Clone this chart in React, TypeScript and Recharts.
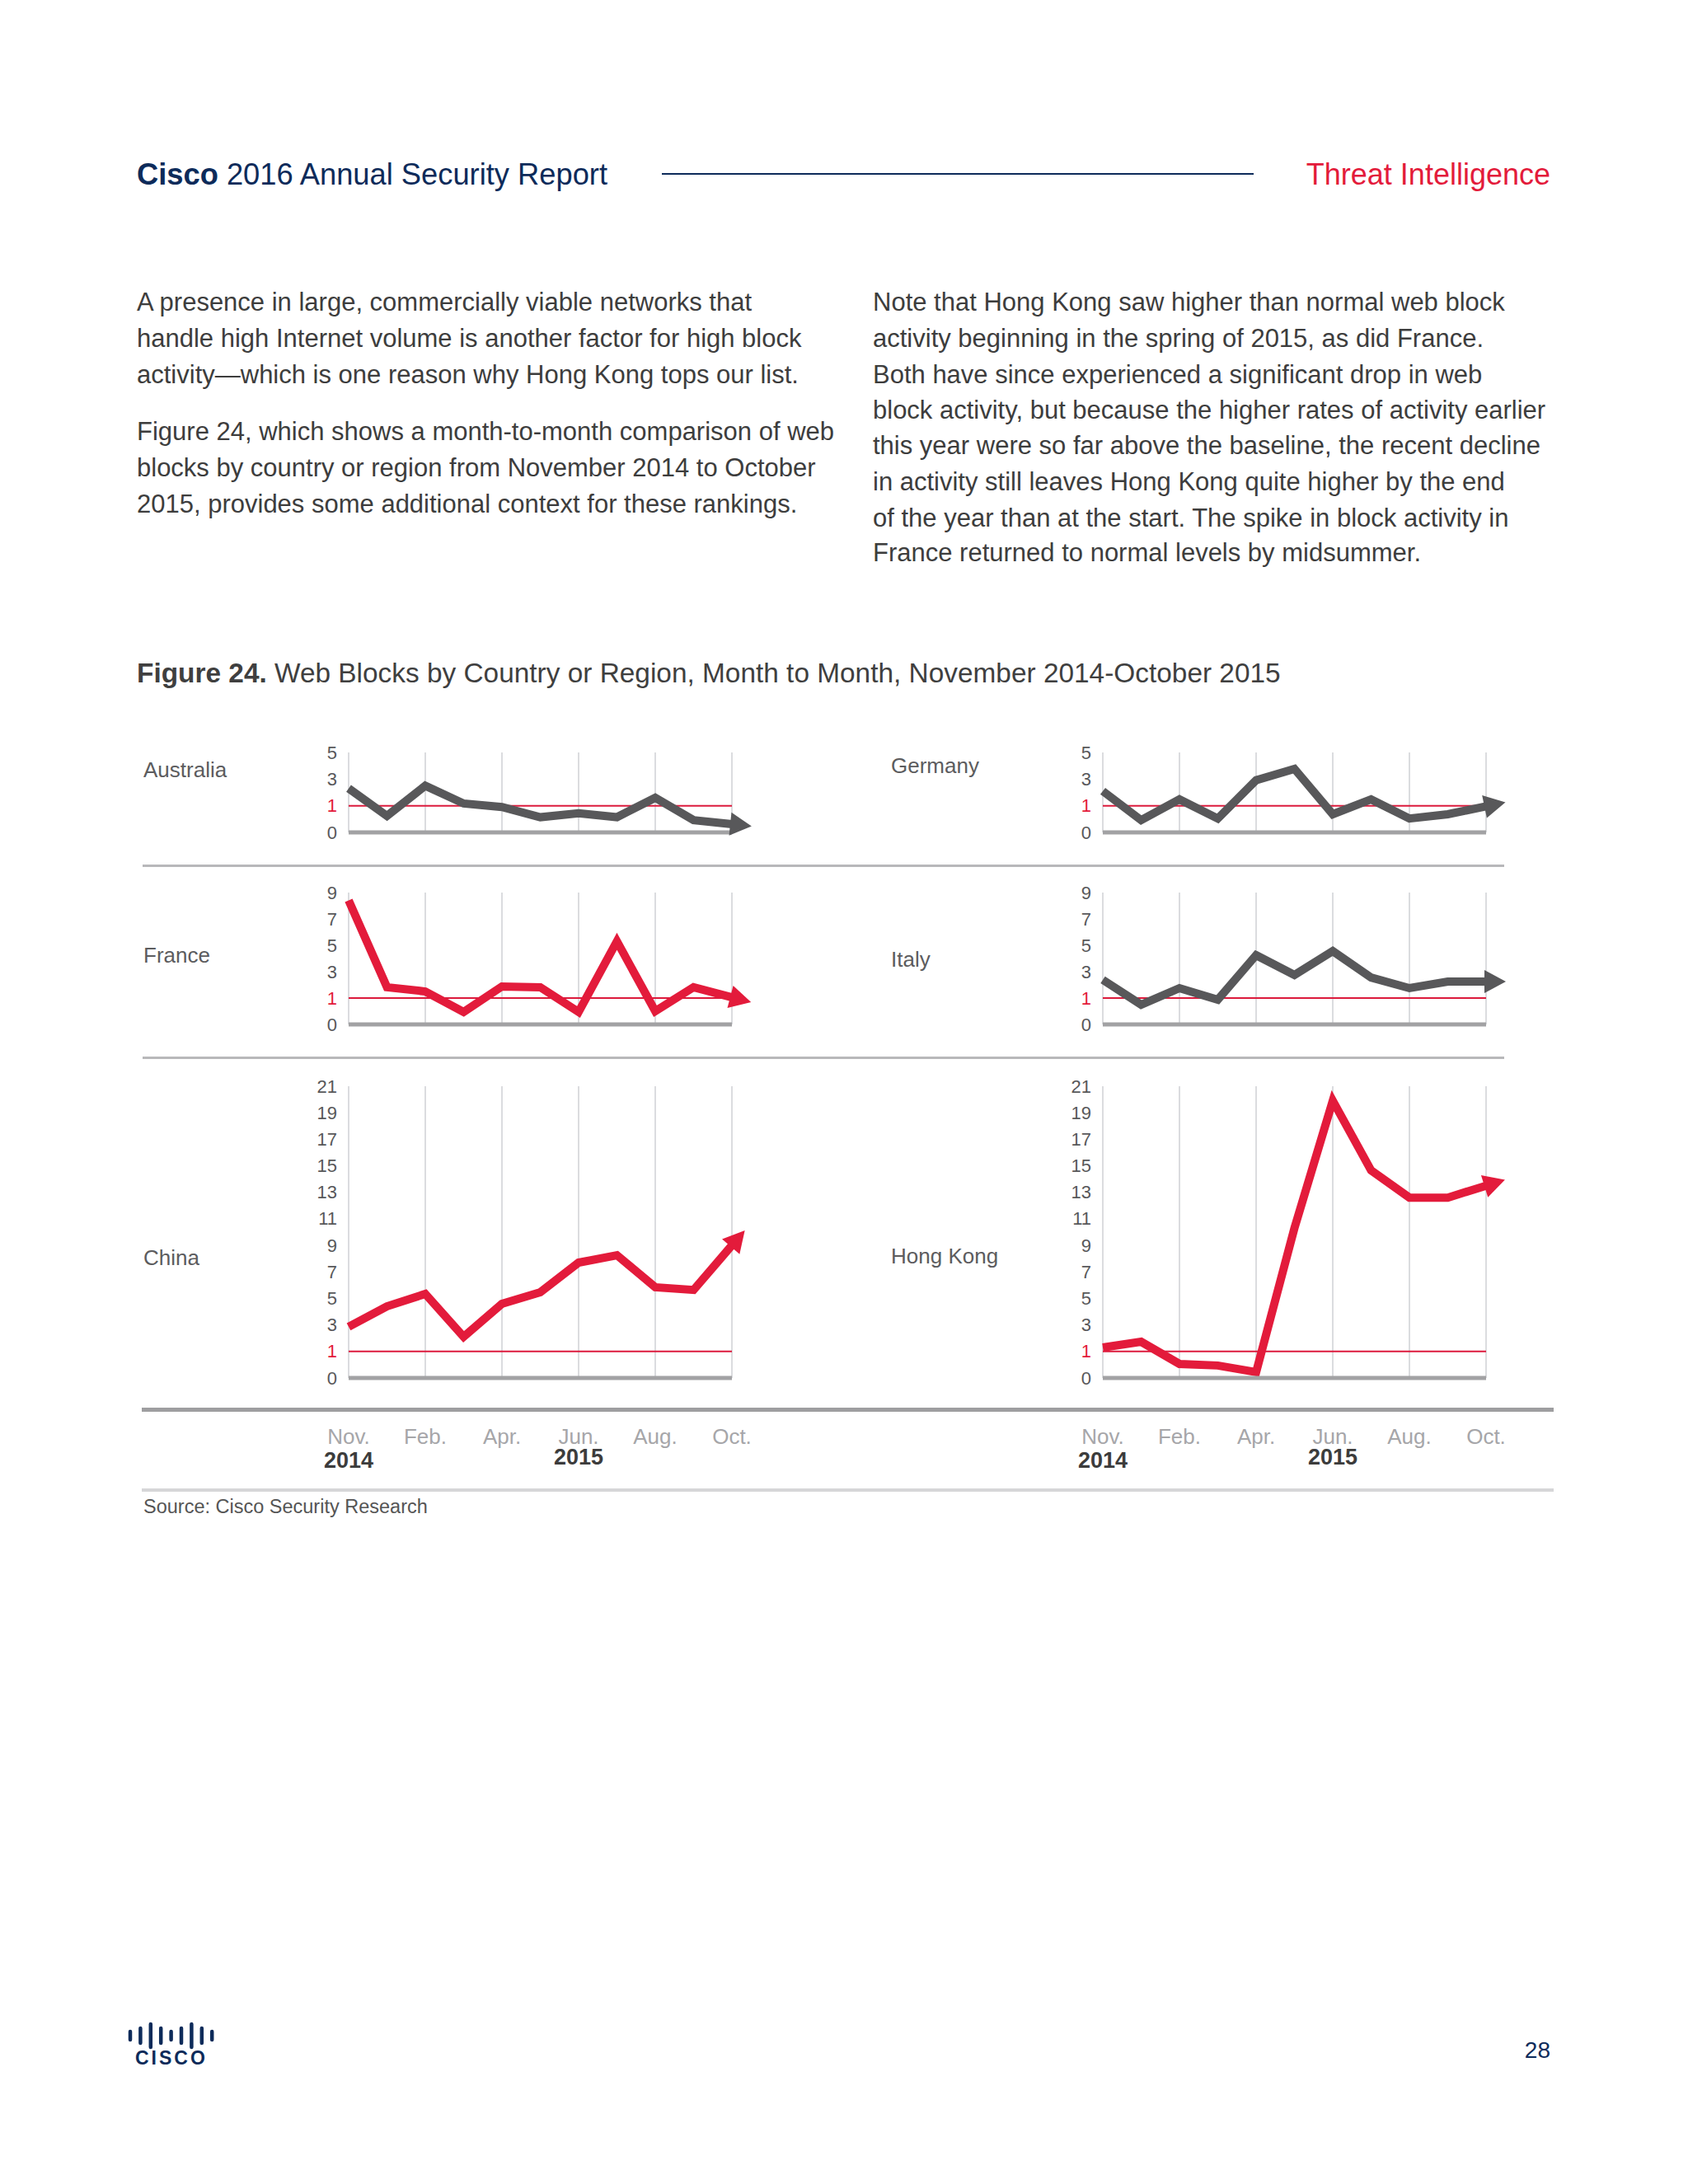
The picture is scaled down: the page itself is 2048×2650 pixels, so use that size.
import React from 'react';
import { LineChart, Line, XAxis, YAxis, CartesianGrid, ReferenceLine } from 'recharts';

// Months plotted (January is not in the source series)
const months = ['Nov.', 'Dec.', 'Feb.', 'Mar.', 'Apr.', 'May', 'Jun.', 'Jul.', 'Aug.', 'Sep.', 'Oct.'];
const gridMonths = ['Nov.', 'Feb.', 'Apr.', 'Jun.', 'Aug.', 'Oct.'];
const yearLabels: Record<string, string> = { 'Nov.': '2014', 'Jun.': '2015' };

// Block activity relative to baseline (1 = normal)
const australia = [2.3, 0.62, 2.5, 1.17, 0.95, 0.57, 0.72, 0.57, 1.6, 0.46, 0.31];
const germany = [2.1, 0.46, 1.48, 0.52, 2.92, 3.77, 0.68, 1.48, 0.52, 0.68, 0.98];
const france = [8.4, 1.82, 1.5, 0.47, 1.88, 1.82, 0.47, 5.3, 0.5, 1.82, 1.06];
const italy = [2.38, 0.75, 1.75, 0.94, 4.25, 2.75, 4.56, 2.56, 1.75, 2.25, 2.25];
const china = [2.86, 4.4, 5.34, 2.1, 4.6, 5.46, 7.7, 8.26, 5.84, 5.64, 9.0];
const hongKong = [1.3, 1.73, 0.53, 0.47, 0.22, 10.3, 19.9, 14.65, 12.6, 12.6, 13.5];

// Tick labels are evenly spaced: 0, 1, then odd steps of 2
const ticksSmall = ['0', '1', '3', '5'];
const ticksMid = ['0', '1', '3', '5', '7', '9'];
const ticksLarge = ['0', '1', '3', '5', '7', '9', '11', '13', '15', '17', '19', '21'];

const table = months.map((month, i) => ({
  month,
  australia: australia[i],
  germany: germany[i],
  france: france[i],
  italy: italy[i],
  china: china[i],
  hongKong: hongKong[i],
}));

// axis position of a value on the 0,1,3,5... scale
const toPos = (v: number) => (v <= 1 ? v : (v + 1) / 2);

const FONT = '"Liberation Sans", Arial, Helvetica, sans-serif';
const NAVY = '#0d2b5a';
const RED = '#e31b3b';
const GRAY = '#58585a';
const TEXT = '#3d3d3d';

const Y_AXIS_W = 60;
const PLOT_W = 465;
const RIGHT_M = 44;

const panels = [
  { key: 'australia', label: 'Australia', color: GRAY, yLabels: ticksSmall, x: 423, top: 913, bottom: 1010, lx: 174, ly: 934, months: false },
  { key: 'germany', label: 'Germany', color: GRAY, yLabels: ticksSmall, x: 1338, top: 913, bottom: 1010, lx: 1081, ly: 929, months: false },
  { key: 'france', label: 'France', color: RED, yLabels: ticksMid, x: 423, top: 1083, bottom: 1243, lx: 174, ly: 1159, months: false },
  { key: 'italy', label: 'Italy', color: GRAY, yLabels: ticksMid, x: 1338, top: 1083, bottom: 1243, lx: 1081, ly: 1164, months: false },
  { key: 'china', label: 'China', color: RED, yLabels: ticksLarge, x: 423, top: 1318, bottom: 1672, lx: 174, ly: 1526, months: true },
  { key: 'hongKong', label: 'Hong Kong', color: RED, yLabels: ticksLarge, x: 1338, top: 1318, bottom: 1672, lx: 1081, ly: 1524, months: true },
];

interface TxtProps {
  x: number;
  y: number;
  size: number;
  color: string;
  weight?: number;
  align?: 'left' | 'right';
  spacing?: number;
  children: React.ReactNode;
}

// absolutely positioned text, y is the vertical centre of the line
const Txt: React.FC<TxtProps> = ({ x, y, size, color, weight = 400, align = 'left', spacing = 0, children }) => {
  const lh = Math.round(size * 1.3);
  const style: React.CSSProperties = {
    position: 'absolute',
    top: y - lh / 2,
    fontSize: size,
    lineHeight: `${lh}px`,
    color,
    fontWeight: weight,
    whiteSpace: 'nowrap',
    fontFamily: FONT,
    letterSpacing: spacing,
  };
  if (align === 'right') style.right = 2048 - x;
  else style.left = x;
  return <div style={style}>{children}</div>;
};

const Rule = ({ x1, x2, y, h, color }: { x1: number; x2: number; y: number; h: number; color: string }) => (
  <div style={{ position: 'absolute', left: x1, top: y - h / 2, width: x2 - x1, height: h, background: color }} />
);

const YTick = (props: any) => {
  const { x, y, payload, labels } = props;
  const label = labels[payload.value];
  return (
    <text x={x} y={y} textAnchor="end" dominantBaseline="central" fontSize={22} fontFamily={FONT} fill={label === '1' ? RED : GRAY}>
      {label}
    </text>
  );
};

// ticks still needed for the vertical grid, but no labels on the upper rows
const EmptyTick = () => <g />;

const MonthTick = (props: any) => {
  const { x, y, payload } = props;
  const year = yearLabels[payload.value];
  return (
    <g>
      <text x={x} y={y + 71} textAnchor="middle" dominantBaseline="central" fontSize={26} fontFamily={FONT} fill="#a6a6a9">
        {payload.value}
      </text>
      {year && (
        <text x={x} y={y + (year === '2014' ? 100 : 96)} textAnchor="middle" dominantBaseline="central" fontSize={27} fontWeight={700} fontFamily={FONT} fill="#3c3c3c">
          {year}
        </text>
      )}
    </g>
  );
};

// arrow head drawn on the last point, pointing along the final segment
const arrowDot = (color: string) => (props: any) => {
  const { cx, cy, index, points } = props;
  if (!points || index !== points.length - 1) return <g key={`dot-${index}`} />;
  const prev = points[index - 1];
  let dx = 1;
  let dy = 0;
  if (prev) {
    dx = cx - prev.x;
    dy = cy - prev.y;
  }
  const len = Math.hypot(dx, dy) || 1;
  const ux = dx / len;
  const uy = dy / len;
  const bx = cx - ux * 2;
  const by = cy - uy * 2;
  const tip = `${cx + ux * 24},${cy + uy * 24}`;
  const b1 = `${bx - uy * 14},${by + ux * 14}`;
  const b2 = `${bx + uy * 14},${by - ux * 14}`;
  return <polygon key={`dot-${index}`} points={`${tip} ${b1} ${b2}`} fill={color} />;
};

const Panel = ({ p }: { p: (typeof panels)[number] }) => {
  const xAxisH = p.months ? 110 : 20;
  const plotH = p.bottom - p.top;
  const height = 20 + plotH + xAxisH + 5;
  return (
    <div style={{ position: 'absolute', left: p.x - Y_AXIS_W, top: p.top - 20 }}>
      <LineChart
        width={Y_AXIS_W + PLOT_W + RIGHT_M}
        height={height}
        data={table}
        margin={{ top: 20, right: RIGHT_M, bottom: 5, left: 0 }}
      >
        <CartesianGrid horizontal={false} stroke="#cfd0d4" strokeWidth={1.5} />
        <XAxis
          dataKey="month"
          ticks={gridMonths}
          interval={0}
          height={xAxisH}
          axisLine={{ stroke: '#a2a2a4', strokeWidth: 5 }}
          tickLine={false}
          tickSize={0}
          tickMargin={0}
          tick={p.months ? <MonthTick /> : <EmptyTick />}
        />
        <YAxis
          type="number"
          domain={[0, p.yLabels.length - 1]}
          ticks={p.yLabels.map((_, i) => i)}
          interval={0}
          width={Y_AXIS_W}
          axisLine={false}
          tickLine={false}
          tickSize={6}
          tickMargin={8}
          tick={<YTick labels={p.yLabels} />}
        />
        <ReferenceLine y={1} stroke="#dc1a3c" strokeWidth={2} />
        <Line
          type="linear"
          dataKey={(d: any) => toPos(d[p.key])}
          stroke={p.color}
          strokeWidth={10}
          strokeLinejoin="miter"
          dot={arrowDot(p.color)}
          activeDot={false}
          isAnimationActive={false}
        />
      </LineChart>
    </div>
  );
};

const CiscoLogo = () => {
  const heights = [10, 18, 28, 18, 10, 18, 28, 18, 10];
  return (
    <>
      <svg style={{ position: 'absolute', left: 153, top: 2450 }} width={115} height={40}>
        {heights.map((h, i) => (
          <line key={i} x1={5 + i * 12.4} x2={5 + i * 12.4} y1={20 - h / 2} y2={20 + h / 2} stroke={NAVY} strokeWidth={4.5} strokeLinecap="round" />
        ))}
      </svg>
      <Txt x={164} y={2497} size={23} color={NAVY} weight={700} spacing={3}>
        CISCO
      </Txt>
    </>
  );
};

const leftBody = [
  { y: 367, t: 'A presence in large, commercially viable networks that' },
  { y: 411, t: 'handle high Internet volume is another factor for high block' },
  { y: 455, t: 'activity\u2014which is one reason why Hong Kong tops our list.' },
  { y: 524, t: 'Figure 24, which shows a month-to-month comparison of web' },
  { y: 568, t: 'blocks by country or region from November 2014 to October' },
  { y: 612, t: '2015, provides some additional context for these rankings.' },
];

const rightBody = [
  'Note that Hong Kong saw higher than normal web block',
  'activity beginning in the spring of 2015, as did France.',
  'Both have since experienced a significant drop in web',
  'block activity, but because the higher rates of activity earlier',
  'this year were so far above the baseline, the recent decline',
  'in activity still leaves Hong Kong quite higher by the end',
  'of the year than at the start. The spike in block activity in',
  'France returned to normal levels by midsummer.',
];
const rightBodyY = [367, 411, 455, 498, 541, 585, 629, 671];

export default function App() {
  return (
    <div style={{ position: 'absolute', left: 0, top: 0, width: 2048, height: 2650, background: '#fff', overflow: 'hidden', fontFamily: FONT }}>
      {/* page header */}
      <Txt x={166} y={211} size={36.3} color={NAVY}>
        <b>Cisco</b> 2016 Annual Security Report
      </Txt>
      <Rule x1={803} x2={1521} y={211} h={2} color={NAVY} />
      <Txt x={1881} y={211} size={36} color={RED} align="right">
        Threat Intelligence
      </Txt>

      {leftBody.map((l) => (
        <Txt key={l.y} x={166} y={l.y} size={31} color={TEXT}>
          {l.t}
        </Txt>
      ))}
      {rightBody.map((t, i) => (
        <Txt key={i} x={1059} y={rightBodyY[i]} size={31} color={TEXT}>
          {t}
        </Txt>
      ))}

      <Txt x={166} y={816} size={33.4} color="#3f3f3f">
        <b>Figure 24.</b> Web Blocks by Country or Region, Month to Month, November 2014-October 2015
      </Txt>

      {panels.map((p) => (
        <Txt key={`l-${p.key}`} x={p.lx} y={p.ly} size={26} color="#5c5c5e">
          {p.label}
        </Txt>
      ))}

      <Rule x1={173} x2={1825} y={1050} h={3} color="#b8b8ba" />
      <Rule x1={173} x2={1825} y={1283} h={3} color="#b8b8ba" />

      {panels.map((p) => (
        <Panel key={p.key} p={p} />
      ))}

      <Rule x1={172} x2={1885} y={1710} h={5} color="#9e9ea0" />
      <Rule x1={172} x2={1885} y={1808} h={4} color="#d6d6d8" />
      <Txt x={174} y={1828} size={23.5} color="#555">
        Source: Cisco Security Research
      </Txt>

      <CiscoLogo />
      <Txt x={1881} y={2488} size={28} color={NAVY} align="right">
        28
      </Txt>
    </div>
  );
}
